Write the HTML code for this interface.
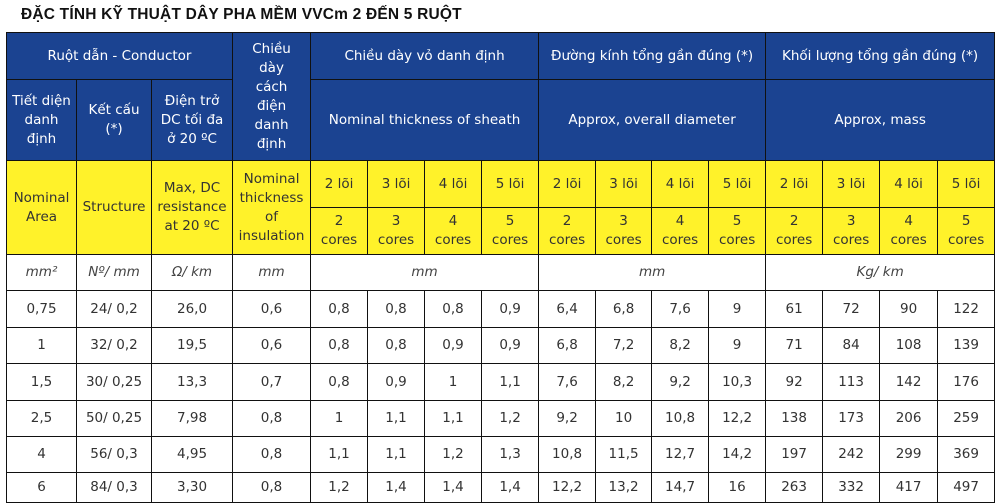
<!DOCTYPE html>
<html><head><meta charset="utf-8">
<style>
html,body{margin:0;padding:0;width:1000px;height:500px;overflow:hidden;background:#fff;font-family:"DejaVu Sans","Liberation Sans",sans-serif;}
#title{position:absolute;left:21px;top:6px;font:bold 15.5px "Liberation Sans",sans-serif;color:#111;letter-spacing:0.2px;}
table{position:absolute;left:6px;top:32px;border-collapse:collapse;table-layout:fixed;width:988px;}
td{border:1px solid #111;text-align:center;vertical-align:middle;padding:0;font-size:13.5px;line-height:19px;color:#333;overflow:hidden;}
.b{background:#1b4391;color:#fff;}
.y{background:#fff22a;color:#333;}
.u{font-style:italic;color:#444;}
td.d{color:#333;}
</style></head><body>
<div id="title">ĐẶC TÍNH KỸ THUẬT DÂY PHA MỀM VVCm 2 ĐẾN 5 RUỘT</div>
<table>
<colgroup><col style="width:70px"><col style="width:75px"><col style="width:81px"><col style="width:78px">
<col style="width:57px"><col style="width:57px"><col style="width:57px"><col style="width:57px">
<col style="width:57px"><col style="width:56px"><col style="width:57px"><col style="width:57px">
<col style="width:57px"><col style="width:57px"><col style="width:58px"><col style="width:57px"></colgroup>
<tr style="height:47px">
<td class="b" colspan="3">Ruột dẫn - Conductor</td>
<td class="b" rowspan="2">Chiều<br>dày<br>cách<br>điện<br>danh<br>định</td>
<td class="b" colspan="4">Chiều dày vỏ danh định</td>
<td class="b" colspan="4">Đường kính tổng gần đúng (*)</td>
<td class="b" colspan="4">Khối lượng tổng gần đúng (*)</td>
</tr>
<tr style="height:81px">
<td class="b">Tiết diện<br>danh<br>định</td>
<td class="b">Kết cấu<br>(*)</td>
<td class="b">Điện trở<br>DC tối đa<br>ở 20 ºC</td>
<td class="b" colspan="4">Nominal thickness of sheath</td>
<td class="b" colspan="4">Approx, overall diameter</td>
<td class="b" colspan="4">Approx, mass</td>
</tr>
<tr style="height:47px">
<td class="y" rowspan="2">Nominal<br>Area</td>
<td class="y" rowspan="2">Structure</td>
<td class="y" rowspan="2">Max, DC<br>resistance<br>at 20 ºC</td>
<td class="y" rowspan="2">Nominal<br>thickness<br>of<br>insulation</td>
<td class="y">2 lõi</td><td class="y">3 lõi</td><td class="y">4 lõi</td><td class="y">5 lõi</td>
<td class="y">2 lõi</td><td class="y">3 lõi</td><td class="y">4 lõi</td><td class="y">5 lõi</td>
<td class="y">2 lõi</td><td class="y">3 lõi</td><td class="y">4 lõi</td><td class="y">5 lõi</td>
</tr>
<tr style="height:47px">
<td class="y">2<br>cores</td><td class="y">3<br>cores</td><td class="y">4<br>cores</td><td class="y">5<br>cores</td>
<td class="y">2<br>cores</td><td class="y">3<br>cores</td><td class="y">4<br>cores</td><td class="y">5<br>cores</td>
<td class="y">2<br>cores</td><td class="y">3<br>cores</td><td class="y">4<br>cores</td><td class="y">5<br>cores</td>
</tr>
<tr style="height:36px">
<td class="u">mm²</td><td class="u">Nº/ mm</td><td class="u">Ω/ km</td><td class="u">mm</td>
<td class="u" colspan="4">mm</td><td class="u" colspan="4">mm</td><td class="u" colspan="4">Kg/ km</td>
</tr>
<tr style="height:37px"><td>0,75</td><td>24/ 0,2</td><td>26,0</td><td>0,6</td><td>0,8</td><td>0,8</td><td>0,8</td><td>0,9</td><td>6,4</td><td>6,8</td><td>7,6</td><td>9</td><td>61</td><td>72</td><td>90</td><td>122</td></tr>
<tr style="height:36px"><td>1</td><td>32/ 0,2</td><td>19,5</td><td>0,6</td><td>0,8</td><td>0,8</td><td>0,9</td><td>0,9</td><td>6,8</td><td>7,2</td><td>8,2</td><td>9</td><td>71</td><td>84</td><td>108</td><td>139</td></tr>
<tr style="height:37px"><td>1,5</td><td>30/ 0,25</td><td>13,3</td><td>0,7</td><td>0,8</td><td>0,9</td><td>1</td><td>1,1</td><td>7,6</td><td>8,2</td><td>9,2</td><td>10,3</td><td>92</td><td>113</td><td>142</td><td>176</td></tr>
<tr style="height:36px"><td>2,5</td><td>50/ 0,25</td><td>7,98</td><td>0,8</td><td>1</td><td>1,1</td><td>1,1</td><td>1,2</td><td>9,2</td><td>10</td><td>10,8</td><td>12,2</td><td>138</td><td>173</td><td>206</td><td>259</td></tr>
<tr style="height:36px"><td>4</td><td>56/ 0,3</td><td>4,95</td><td>0,8</td><td>1,1</td><td>1,1</td><td>1,2</td><td>1,3</td><td>10,8</td><td>11,5</td><td>12,7</td><td>14,2</td><td>197</td><td>242</td><td>299</td><td>369</td></tr>
<tr style="height:30px"><td>6</td><td>84/ 0,3</td><td>3,30</td><td>0,8</td><td>1,2</td><td>1,4</td><td>1,4</td><td>1,4</td><td>12,2</td><td>13,2</td><td>14,7</td><td>16</td><td>263</td><td>332</td><td>417</td><td>497</td></tr>
</table>
</body></html>
